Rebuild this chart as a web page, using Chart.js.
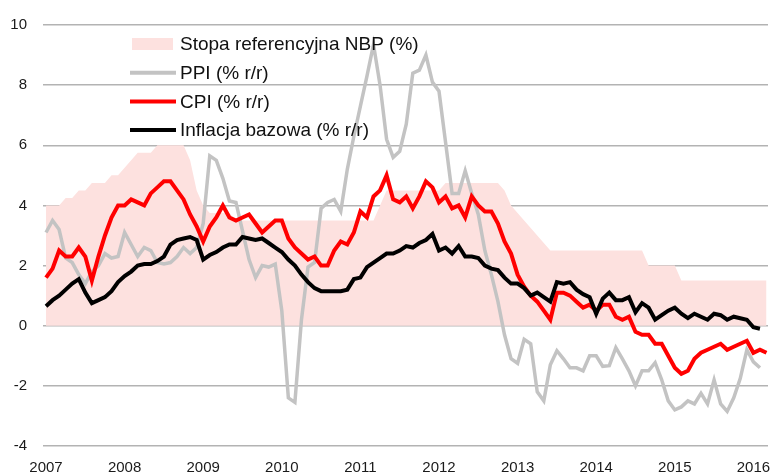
<!DOCTYPE html>
<html>
<head>
    <title>Inflacja i stopa referencyjna NBP</title>
    <style>
        body {
            margin: 0;
            background: #ffffff;
        }
        #chartBox {
            width: 770px;
            height: 475px;
        }
    </style>
    <script src="https://cdn.jsdelivr.net/npm/chart.js"></script>
</head>
<body>
    <div id="chartBox"><canvas id="inflationChart" width="770" height="475"></canvas></div>
    <script>
        // monthly data, Jan 2007 - Mar 2016 (index 0 = Jan 2007)
        const years = ['2007', '2008', '2009', '2010', '2011', '2012', '2013', '2014', '2015', '2016'];

        const legendLabels = ['Stopa referencyjna NBP (%)', 'PPI (% r/r)', 'CPI (% r/r)', 'Inflacja bazowa (% r/r)'];

        const refRate = [
            4, 4, 4, 4.25, 4.25, 4.5, 4.5, 4.75, 4.75, 4.75, 5, 5,
            5.25, 5.5, 5.75, 5.75, 5.75, 6, 6, 6, 6, 6, 5.5, 4.5,
            4, 3.75, 3.75, 3.75, 3.75, 3.5, 3.5, 3.5, 3.5, 3.5, 3.5, 3.5,
            3.5, 3.5, 3.5, 3.5, 3.5, 3.5, 3.5, 3.5, 3.5, 3.5, 3.5, 3.5,
            3.5, 3.5, 3.5, 4, 4.5, 4.5, 4.5, 4.5, 4.5, 4.5, 4.5, 4.5,
            4.5, 4.75, 4.75, 4.75, 4.75, 4.75, 4.75, 4.75, 4.75, 4.75, 4.5, 4,
            3.75, 3.5, 3.25, 3, 2.75, 2.5, 2.5, 2.5, 2.5, 2.5, 2.5, 2.5,
            2.5, 2.5, 2.5, 2.5, 2.5, 2.5, 2.5, 2.5, 2, 2, 2, 2,
            2, 1.5, 1.5, 1.5, 1.5, 1.5, 1.5, 1.5, 1.5, 1.5, 1.5, 1.5,
            1.5, 1.5, 1.5
        ];

        const ppi = [
            3.1, 3.5, 3.2, 2.25, 2.1, 1.7, 1.4, 1.8, 2.0, 2.4, 2.25, 2.3,
            3.1, 2.7, 2.3, 2.6, 2.5, 2.1, 2.05, 2.1, 2.3, 2.6, 2.4, 2.6,
            3.4, 5.65, 5.5, 4.9, 4.15, 4.1, 3.15, 2.2, 1.6, 2.0, 1.95, 2.05,
            0.5, -2.4, -2.55, 0.2, 1.95, 2.1, 3.9, 4.1, 4.2, 3.8, 5.2, 6.3,
            7.3, 8.3, 9.35, 8.0, 6.2, 5.6, 5.8, 6.7, 8.4, 8.5, 9.0, 8.1,
            7.8, 6.1, 4.4, 4.4, 5.15, 4.4, 3.7, 2.5, 1.7, 0.8, -0.3, -1.1,
            -1.25, -0.45, -0.6, -2.2, -2.5, -1.3, -0.83, -1.1, -1.4, -1.4, -1.5, -1.0,
            -1.0, -1.35, -1.33, -0.73, -1.1, -1.5, -2.0, -1.5, -1.5, -1.23, -1.8, -2.5,
            -2.8, -2.7, -2.5, -2.6, -2.25, -2.6, -1.8, -2.6, -2.85, -2.4, -1.75, -0.8,
            -1.2, -1.4
        ];

        const cpi = [
            1.6, 1.9, 2.5, 2.3, 2.3, 2.6, 2.3, 1.5, 2.3, 3.0, 3.6, 4.0,
            4.0, 4.2, 4.1, 4.0, 4.4, 4.6, 4.8, 4.8, 4.5, 4.2, 3.7, 3.3,
            2.8, 3.3, 3.6, 4.0, 3.6, 3.5, 3.6, 3.7, 3.4, 3.1, 3.3, 3.5,
            3.5, 2.9, 2.6, 2.4, 2.2, 2.3, 2.0, 2.0, 2.5, 2.8, 2.7, 3.1,
            3.8, 3.6, 4.3, 4.5, 5.0, 4.2, 4.1, 4.3, 3.9, 4.3, 4.8, 4.6,
            4.1, 4.3, 3.9, 4.0, 3.6, 4.3, 4.0, 3.8, 3.8, 3.4, 2.8, 2.4,
            1.7, 1.3, 1.0, 0.8, 0.5, 0.2, 1.1, 1.1, 1.0, 0.8, 0.6, 0.7,
            0.5, 0.7, 0.7, 0.3, 0.2, 0.3, -0.2, -0.3, -0.3, -0.6, -0.6, -1.0,
            -1.4, -1.6, -1.5, -1.1, -0.9, -0.8, -0.7, -0.6, -0.8, -0.7, -0.6, -0.5,
            -0.9, -0.8, -0.9
        ];

        const coreInfl = [
            0.65, 0.85, 1.0, 1.2, 1.4, 1.55, 1.1, 0.75, 0.85, 0.95, 1.15, 1.45,
            1.65, 1.8, 2.0, 2.05, 2.05, 2.15, 2.3, 2.7, 2.85, 2.9, 2.95, 2.85,
            2.2, 2.35, 2.45, 2.6, 2.7, 2.7, 2.95, 2.9, 2.85, 2.9, 2.75, 2.6,
            2.45, 2.2, 2.0, 1.7, 1.45, 1.25, 1.15, 1.15, 1.15, 1.15, 1.2, 1.55,
            1.6, 1.95, 2.1, 2.25, 2.4, 2.4, 2.5, 2.65, 2.6, 2.75, 2.85, 3.05,
            2.5, 2.6, 2.4, 2.65, 2.3, 2.3, 2.25, 2.0, 1.9, 1.85, 1.6, 1.4,
            1.4, 1.25, 1.0, 1.1, 0.95, 0.8, 1.45, 1.4, 1.45, 1.2, 1.05, 0.95,
            0.4, 0.9, 1.1, 0.85, 0.85, 0.95, 0.45, 0.75, 0.6, 0.2, 0.35, 0.5,
            0.6, 0.4, 0.25, 0.4, 0.3, 0.2, 0.4, 0.35, 0.2, 0.3, 0.25, 0.2,
            -0.05, -0.1
        ];

        const fontFamily = '"Liberation Sans", Arial, sans-serif';

        function toPoints(values) {
            return values.map((v, i) => ({ x: i, y: v }));
        }

        // legend drawn inside the plot, top left
        const insideLegend = {
            id: 'insideLegend',
            afterDatasetsDraw(chart) {
                const ctx = chart.ctx;
                ctx.save();
                ctx.font = '19px ' + fontFamily;
                ctx.textBaseline = 'middle';
                chart.data.datasets.forEach((ds, row) => {
                    const y = 44 + row * 28.7;
                    if (ds.fill) {
                        ctx.fillStyle = ds.backgroundColor;
                        ctx.fillRect(132, y - 6, 41, 12);
                    } else {
                        ctx.strokeStyle = ds.borderColor;
                        ctx.lineWidth = 4;
                        ctx.beginPath();
                        ctx.moveTo(130, y);
                        ctx.lineTo(176, y);
                        ctx.stroke();
                    }
                    ctx.fillStyle = '#111111';
                    ctx.fillText(ds.label, 180, y + 1);
                });
                ctx.restore();
            }
        };

        const ctx = document.getElementById('inflationChart').getContext('2d');
        new Chart(ctx, {
            type: 'line',
            data: {
                datasets: [
                    {
                        label: legendLabels[0],
                        data: toPoints(refRate),
                        fill: 'origin',
                        backgroundColor: '#FDE1DF',
                        borderWidth: 0,
                        pointRadius: 0,
                        order: 4
                    },
                    {
                        label: legendLabels[1],
                        data: toPoints(ppi),
                        fill: false,
                        borderColor: '#C3C3C3',
                        borderWidth: 3.5,
                        pointRadius: 0,
                        order: 3
                    },
                    {
                        label: legendLabels[2],
                        data: toPoints(cpi),
                        fill: false,
                        borderColor: '#FF0000',
                        borderWidth: 4,
                        pointRadius: 0,
                        order: 2
                    },
                    {
                        label: legendLabels[3],
                        data: toPoints(coreInfl),
                        fill: false,
                        borderColor: '#000000',
                        borderWidth: 4,
                        pointRadius: 0,
                        order: 1
                    }
                ]
            },
            options: {
                responsive: false,
                animation: false,
                layout: {
                    padding: { top: 24, right: 2, left: 0, bottom: 0 }
                },
                plugins: {
                    legend: { display: false },
                    tooltip: { enabled: false }
                },
                scales: {
                    x: {
                        type: 'linear',
                        min: -0.46,
                        max: 110.23,
                        grid: { display: false },
                        border: { display: false },
                        afterBuildTicks: (scale) => {
                            scale.ticks = years.map((y, i) => ({ value: i * 12 }));
                        },
                        afterFit: (scale) => {
                            scale.height = 29;
                            scale.paddingLeft = 0;
                            scale.paddingRight = 0;
                        },
                        ticks: {
                            autoSkip: false,
                            maxRotation: 0,
                            padding: 5,
                            color: '#1a1a1a',
                            font: { family: fontFamily, size: 15 },
                            callback: (value) => years[Math.round(value / 12)]
                        }
                    },
                    y: {
                        min: -4,
                        max: 10,
                        grid: {
                            color: '#B3B3B3',
                            lineWidth: 1.5,
                            drawTicks: false
                        },
                        border: { display: false },
                        afterFit: (scale) => { scale.width = 43; },
                        ticks: {
                            stepSize: 2,
                            padding: 16,
                            color: '#1a1a1a',
                            font: { family: fontFamily, size: 15 }
                        }
                    }
                }
            },
            plugins: [insideLegend]
        });
    </script>
</body>
</html>
